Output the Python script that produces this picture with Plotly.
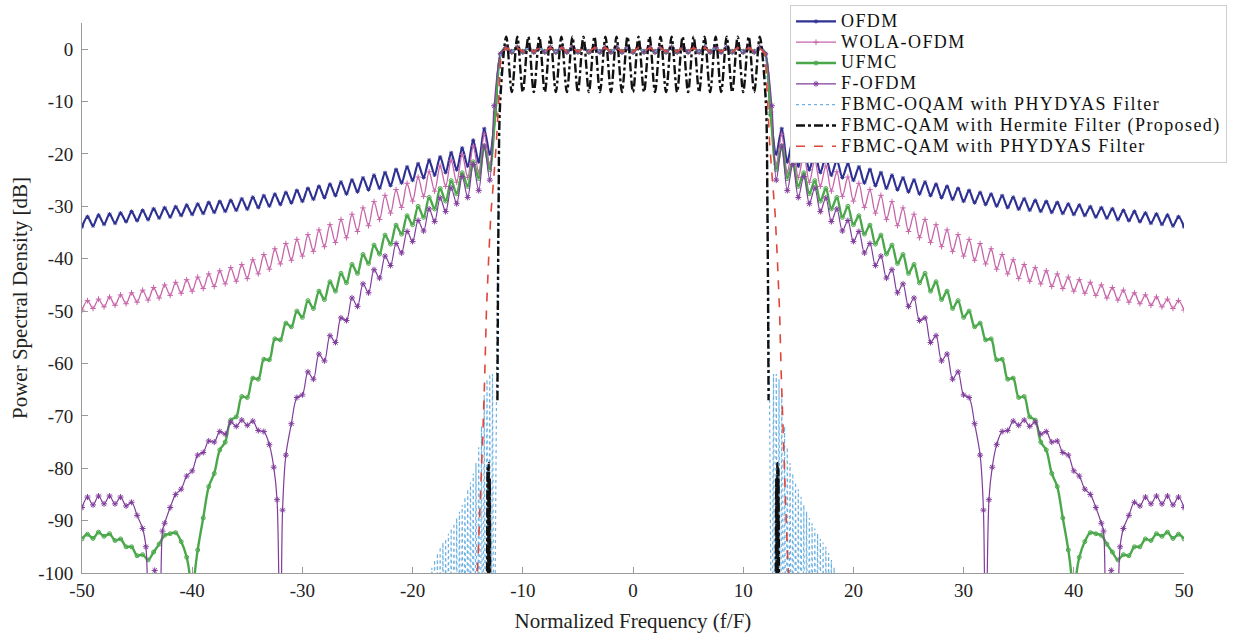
import numpy as np
import plotly.graph_objects as go

# ---------------- axis ticks ----------------
x_tick_vals = [-50, -40, -30, -20, -10, 0, 10, 20, 30, 40, 50]
x_tick_text = ["-50", "-40", "-30", "-20", "-10", "0", "10", "20", "30", "40", "50"]
y_tick_vals = [0, -10, -20, -30, -40, -50, -60, -70, -80, -90, -100]
y_tick_text = ["0", "-10", "-20", "-30", "-40", "-50", "-60", "-70", "-80", "-90", "-100"]

series_names = [
    "OFDM",
    "WOLA-OFDM",
    "UFMC",
    "F-OFDM",
    "FBMC-OQAM with PHYDYAS Filter",
    "FBMC-QAM with Hermite Filter (Proposed)",
    "FBMC-QAM with PHYDYAS Filter",
]

# ---------------- lower sideband (f < -12) ----------------
# All spectra are symmetric about f = 0; the upper sideband is the mirror image.
f_side = np.arange(-50.0, -12.49, 0.5)  # -50, -49.5, ..., -12.5

ofdm_side = [
    -33.9, -32.0, -33.7, -31.7, -33.4, -31.5, -33.2, -31.3, -32.9, -31.0,
    -32.7, -30.8, -32.5, -30.5, -32.2, -30.3, -32.0, -30.1, -31.7, -29.8,
    -31.5, -29.6, -31.3, -29.3, -31.1, -29.1, -30.9, -28.9, -30.7, -28.6,
    -30.5, -28.3, -30.2, -28.0, -29.9, -27.7, -29.6, -27.4, -29.3, -27.0,
    -29.0, -26.6, -28.6, -26.2, -28.3, -25.8, -27.9, -25.4, -27.6, -25.0,
    -27.2, -24.6, -26.8, -24.1, -26.5, -23.6, -26.0, -23.0, -25.5, -22.5,
    -25.0, -21.9, -24.5, -21.2, -24.0, -20.6, -23.5, -19.8, -23.0, -18.9,
    -22.3, -17.4, -21.5, -15.2, -20.0, -12.5,
]

wola_side = [
    -49.8, -48.0, -49.5, -47.7, -49.2, -47.3, -48.9, -46.9, -48.6, -46.5,
    -48.3, -46.0, -47.9, -45.5, -47.5, -45.0, -47.0, -44.5, -46.6, -44.0,
    -46.2, -43.5, -45.7, -42.9, -45.3, -42.3, -44.8, -41.7, -44.3, -41.1,
    -43.8, -40.2, -42.9, -39.2, -42.0, -38.1, -41.0, -37.1, -40.3, -36.3,
    -39.5, -35.4, -38.6, -34.5, -37.7, -33.5, -36.9, -32.5, -36.0, -31.5,
    -34.8, -30.3, -33.7, -29.1, -32.5, -27.9, -31.3, -26.8, -30.2, -25.6,
    -29.0, -24.4, -28.1, -23.4, -27.1, -22.3, -26.2, -21.2, -25.4, -20.1,
    -24.5, -18.5, -23.5, -16.2, -22.0, -12.0,
]

ufmc_f = [
    -50.0, -49.5, -49.0, -48.5, -48.0, -47.5, -47.0, -46.5, -46.0, -45.5,
    -45.0, -44.5, -44.0, -43.5, -43.0, -42.5, -42.0, -41.5, -41.0, -40.5,
    -40.2, -40.0, -39.8,
    -39.5, -39.0, -38.5, -38.0, -37.5, -37.0, -36.5, -36.0, -35.5, -35.0,
    -34.5, -34.0, -33.5, -33.0, -32.5, -32.0, -31.5, -31.0, -30.5, -30.0,
    -29.5, -29.0, -28.5, -28.0, -27.5, -27.0, -26.5, -26.0, -25.5, -25.0,
    -24.5, -24.0, -23.5, -23.0, -22.5, -22.0, -21.5, -21.0, -20.5, -20.0,
    -19.5, -19.0, -18.5, -18.0, -17.5, -17.0, -16.5, -16.0, -15.5, -15.0,
    -14.5, -14.0, -13.5, -13.0, -12.5,
]
ufmc_side = [
    -93.5, -92.6, -93.4, -92.2, -93.0, -92.5, -93.8, -93.5, -95.0, -95.0,
    -96.7, -96.5, -97.5, -96.0, -94.5, -92.8, -92.5, -92.3, -94.0, -97.0,
    -101.0, -115.0, -101.0,
    -95.6, -89.5, -83.5, -81.0, -76.5, -75.0, -70.8, -70.2, -66.3, -66.5,
    -62.8, -63.0, -59.2, -59.3, -55.3, -55.5, -52.3, -53.0, -50.0, -51.2,
    -48.0, -49.5, -46.2, -47.8, -44.4, -46.2, -42.8, -44.6, -41.1, -42.8,
    -39.2, -40.9, -37.4, -39.1, -35.5, -37.2, -33.6, -35.3, -31.8, -33.5,
    -30.0, -32.1, -28.3, -30.5, -26.6, -29.0, -25.1, -27.6, -23.6, -26.2,
    -21.5, -24.7, -18.5, -23.0, -12.5,
]

fofdm_f = [
    -50.0, -49.5, -49.0, -48.5, -48.0, -47.5, -47.0, -46.5, -46.0, -45.5,
    -45.0, -44.5, -44.2, -43.85, -43.4, -42.95, -42.7, -42.5, -42.0, -41.5,
    -41.0, -40.5, -40.0, -39.5, -39.0, -38.5, -38.0, -37.5, -37.0, -36.5,
    -36.0, -35.5, -35.0, -34.5, -34.0, -33.5, -33.0, -32.6, -32.3, -32.0,
    -31.8, -31.5, -31.0, -30.5, -30.0, -29.5, -29.0, -28.5, -28.0, -27.5,
    -27.0, -26.5, -26.0, -25.5, -25.0, -24.5, -24.0, -23.5, -23.0, -22.5,
    -22.0, -21.5, -21.0, -20.5, -20.0, -19.5, -19.0, -18.5, -18.0, -17.5,
    -17.0, -16.5, -16.0, -15.5, -15.0, -14.5, -14.0, -13.5, -13.0, -12.6,
]
fofdm_side = [
    -87.5, -85.5, -87.0, -85.3, -86.8, -85.3, -86.8, -85.5, -87.2, -86.5,
    -89.0, -91.5, -95.0, -115.0, -99.5, -115.0, -92.0, -90.5, -87.5, -85.0,
    -84.0, -81.5, -80.5, -77.5, -77.0, -74.8, -75.0, -73.0, -73.5, -71.2,
    -72.0, -70.8, -71.8, -71.0, -72.8, -73.0, -75.5, -79.8, -86.0, -120.0,
    -88.0, -77.5, -71.5, -66.5, -66.0, -61.6, -63.0, -58.2, -59.5, -54.7,
    -56.0, -51.3, -51.8, -47.5, -49.1, -44.8, -46.5, -42.1, -43.7, -39.5,
    -41.3, -37.1, -38.9, -34.8, -36.7, -32.7, -34.7, -30.5, -32.9, -28.4,
    -31.0, -26.5, -29.5, -24.3, -28.3, -22.0, -27.0, -18.5, -25.0, -10.8,
]

# FBMC-OQAM: comb of sidelobes between -18.5 and -12.75; the points in between
# the lobe tops lie below the visible axis range.
oqam_comb_f = list(np.arange(-18.5, -12.74, 0.125)) + [-12.6, -12.35, -12.15]
oqam_comb = [
    -101.0, -130.0, -99.0, -130.0, -97.5, -130.0, -96.2, -130.0, -95.0, -130.0,
    -94.2, -130.0, -93.5, -130.0, -92.5, -130.0, -91.5, -130.0, -90.5, -130.0,
    -89.5, -130.0, -88.3, -130.0, -87.0, -130.0, -85.5, -130.0, -84.0, -130.0,
    -82.7, -130.0, -81.0, -130.0, -79.0, -130.0, -76.0, -130.0, -72.0, -130.0,
    -66.0, -130.0, -63.0, -130.0, -62.0, -130.0, -62.0,
    -130.0, -55.0, -12.0,
]

# FBMC-QAM (Hermite): band-edge skirt; None marks a break in the trace
herm_edge_f = [-13.25, -13.2, -13.15, -13.1, -13.05, -13.0, -12.95, -12.9, -12.3, -12.2, -12.05]
herm_edge = [-110.0, -80.0, -110.0, -79.0, -110.0, -82.0, -110.0, None, -67.0, -31.0, -10.0]

# FBMC-QAM (PHYDYAS): band-edge skirt
phyd_edge_f = [-14.3, -14.1, -13.9, -13.75, -13.6, -13.45, -13.3, -13.1, -12.9, -12.65, -12.4, -12.2, -12.1]
phyd_edge = [-110.0, -100.0, -90.0, -82.0, -72.0, -62.0, -50.0, -40.0, -31.5, -25.0, -18.0, -10.0, -5.0]

# ---------------- pass band ----------------
f_band = np.arange(-12.0, 12.01, 0.5)  # 49 points
band_flat = [
    -0.9, 0.3, -0.5, 0.3, -0.5, 0.3, -0.5, 0.3, -0.5, 0.3,
    -0.5, 0.3, -0.5, 0.3, -0.5, 0.3, -0.5, 0.3, -0.5, 0.3,
    -0.5, 0.3, -0.5, 0.3, -0.5, 0.3, -0.5, 0.3, -0.5, 0.3,
    -0.5, 0.3, -0.5, 0.3, -0.5, 0.3, -0.5, 0.3, -0.5, 0.3,
    -0.5, 0.3, -0.5, 0.3, -0.5, 0.3, -0.5, 0.3, -0.9,
]
f_band_herm = np.arange(-11.5, 11.51, 0.5)  # 47 points
band_hermite = [
    2.4, -8.2, 2.4, -8.2, 2.4, -8.2, 2.4, -8.2, 2.4, -8.2,
    2.4, -8.2, 2.4, -8.2, 2.4, -8.2, 2.4, -8.2, 2.4, -8.2,
    2.4, -8.2, 2.4, -8.2, 2.4, -8.2, 2.4, -8.2, 2.4, -8.2,
    2.4, -8.2, 2.4, -8.2, 2.4, -8.2, 2.4, -8.2, 2.4, -8.2,
    2.4, -8.2, 2.4, -8.2, 2.4, -8.2, 2.4,
]


def symmetric(f_left, y_left, f_mid, y_mid):
    """Lower sideband + pass band + mirrored upper sideband."""
    f_left = [float(v) for v in f_left]
    y_left = list(y_left)
    fx = f_left + [float(v) for v in f_mid] + [-v for v in reversed(f_left)]
    fy = y_left + list(y_mid) + list(reversed(y_left))
    return fx, fy


styles = [
    dict(color="#2e3192", width=2.2, shape="spline", marker="asterisk-open", msize=3.5, dash="solid"),
    dict(color="#c764a8", width=1.3, shape="spline", marker="cross-thin-open", msize=4, dash="solid"),
    dict(color="#4aa84a", width=2.4, shape="spline", marker="circle-open", msize=4, dash="solid"),
    dict(color="#803c9c", width=1.2, shape="spline", marker="asterisk-open", msize=5, dash="solid"),
    dict(color="#6fb2e2", width=1.2, shape="linear", marker=None, msize=0, dash="dot"),
    dict(color="#111111", width=2.4, shape="spline", marker=None, msize=0, dash="dashdot"),
    dict(color="#e0453a", width=1.6, shape="linear", marker=None, msize=0, dash="dash"),
]

data = [
    symmetric(f_side, ofdm_side, f_band, band_flat),
    symmetric(f_side, wola_side, f_band, band_flat),
    symmetric(ufmc_f, ufmc_side, f_band, band_flat),
    symmetric(fofdm_f, fofdm_side, f_band, band_flat),
    symmetric(oqam_comb_f, oqam_comb, f_band, band_flat),
    symmetric(herm_edge_f, herm_edge, f_band_herm, band_hermite),
    symmetric(phyd_edge_f, phyd_edge, f_band, band_flat),
]

legend_span = '<span style="font-size:18px;letter-spacing:1.4px">{}</span>'

fig = go.Figure()
for name, (fx, fy), st in zip(series_names, data, styles):
    kw = dict(
        x=fx, y=fy,
        name=legend_span.format(name),
        line=dict(color=st["color"], width=st["width"], shape=st["shape"], dash=st["dash"]),
        connectgaps=False,
    )
    if st["shape"] == "spline":
        kw["line"]["smoothing"] = 0.9
    if st["marker"]:
        kw["mode"] = "lines+markers"
        kw["marker"] = dict(symbol=st["marker"], size=st["msize"], color=st["color"],
                            line=dict(width=1, color=st["color"]))
    else:
        kw["mode"] = "lines"
    fig.add_trace(go.Scatter(**kw))

axis_common = dict(
    showgrid=False, zeroline=False, showline=True, linecolor="#9a9a9a", linewidth=1,
    ticks="inside", ticklen=6, tickwidth=1, tickcolor="#9a9a9a", mirror=False,
    tickfont=dict(family="Liberation Serif", size=19, color="#222222"),
)

fig.update_layout(
    width=1233, height=635,
    margin=dict(l=82, r=49, t=23, b=62, autoexpand=False),
    paper_bgcolor="white", plot_bgcolor="white",
    font=dict(family="Liberation Serif", size=19, color="#222222"),
    xaxis=dict(range=[-50, 50], tickmode="array", tickvals=x_tick_vals, ticktext=x_tick_text,
               title=dict(text="Normalized Frequency (f/F)", font=dict(size=21, color="#222222"), standoff=13),
               automargin=False, **axis_common),
    yaxis=dict(range=[-100, 5], tickmode="array", tickvals=y_tick_vals, ticktext=y_tick_text,
               ticklabelstandoff=4,
               title=dict(text="Power Spectral Density [dB]", font=dict(size=21, color="#222222"), standoff=5),
               automargin=False, **axis_common),
    legend=dict(
        x=(790 - 82) / 1102, xanchor="left",
        y=(573 - 5) / 550, yanchor="top",
        bgcolor="white", bordercolor="#cfcfcf", borderwidth=1,
        font=dict(family="Liberation Serif", size=13.7, color="#111111"),
        itemwidth=40, tracegroupgap=0,
    ),
    showlegend=True,
)

fig.write_html("out.html")
